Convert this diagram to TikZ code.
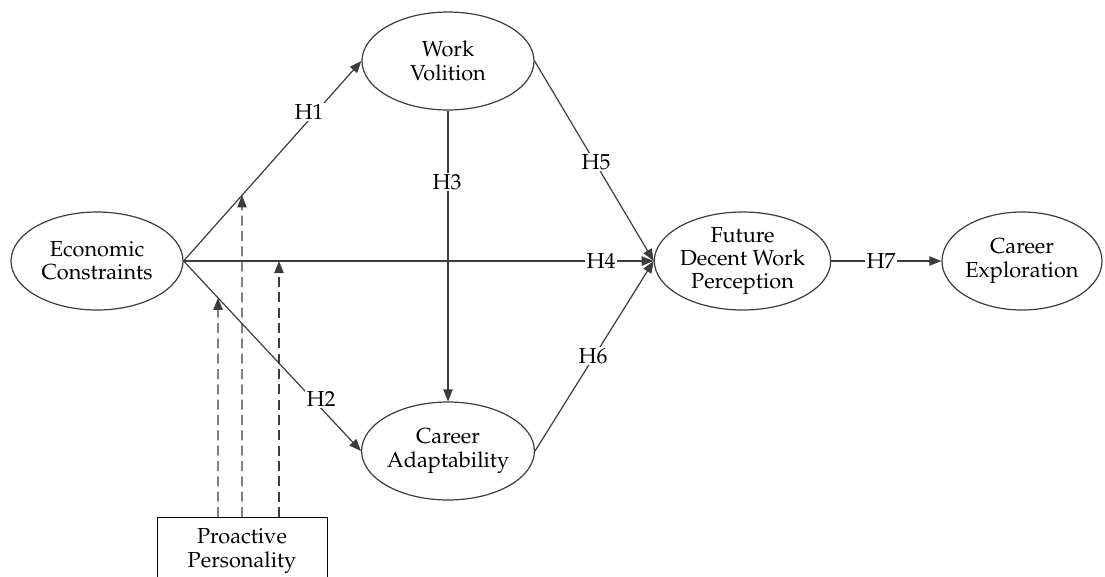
\documentclass[tikz,border=0pt]{standalone}
\usepackage[T1]{fontenc}
\usepackage{mathpazo}
\usetikzlibrary{arrows.meta,shapes.geometric}
\definecolor{ln}{HTML}{3C3C3C}
\begin{document}
\begin{tikzpicture}[x=0.75pt,y=-0.75pt,
  lat/.style={draw=ln,line width=0.9pt,ellipse,inner sep=0pt,minimum width=129pt,minimum height=73.5pt,align=center,font=\fontsize{16.3}{17.5}\selectfont},
  obs/.style={draw=black,line width=0.7pt,rectangle,inner sep=0pt,minimum width=127.5pt,minimum height=51pt,align=center,font=\fontsize{16.3}{17.5}\selectfont},
  path/.style={draw=ln,line width=0.9pt,-{Triangle[length=9pt,width=7pt]}},
  mod/.style={path,dash pattern=on 7.5pt off 4pt},
  hyp/.style={fill=white,inner sep=1pt,font=\fontsize{16.3}{17.5}\selectfont}]
\useasboundingbox (0,0) rectangle (1105,576);
\node[lat] (ec) at (97,261) {Economic\\Constraints};
\node[lat] (wv) at (448,61) {Work\\Volition};
\node[lat] (ca) at (448,451) {Career\\Adaptability};
\node[lat] (fd) at (742.5,261) {Future\\Decent Work\\Perception};
\node[lat,minimum width=120pt] (ce) at (1022,261) {Career\\Exploration};
\node[obs] (pp) at (242,551) {Proactive\\Personality};

\coordinate (d1) at (218,517);
\coordinate (d2) at (242,517);
\coordinate (d3) at (279,517);

\draw[path] (ec.east) -- (wv.west);
\draw[path] (ec.east) -- (ca.west);
\draw[path] (ec.east) -- (fd.west);
\draw[path] (wv.south) -- (ca.north);
\draw[path] (wv.east) -- (fd.west);
\draw[path] (ca.east) -- (fd.west);
\draw[path] (fd.east) -- (ce.west);

\draw[mod] (d1) -- (intersection of ec.east--ca.west and d1--218,200);
\draw[mod] (d2) -- (intersection of ec.east--wv.west and d2--242,100);
\draw[mod] (d3) -- (d3 |- ec.east);

\node[hyp] (h1) at (309,112) {H1};
\node[hyp] (h2) at (321,399) {H2};
\node[hyp] (h3) at (447,182) {H3};
\node[hyp] (h4) at (601,261) {H4};
\node[hyp] (h5) at (596,162) {H5};
\node[hyp] (h6) at (593,356) {H6};
\node[hyp] (h7) at (881,261) {H7};
\end{tikzpicture}
\end{document}
